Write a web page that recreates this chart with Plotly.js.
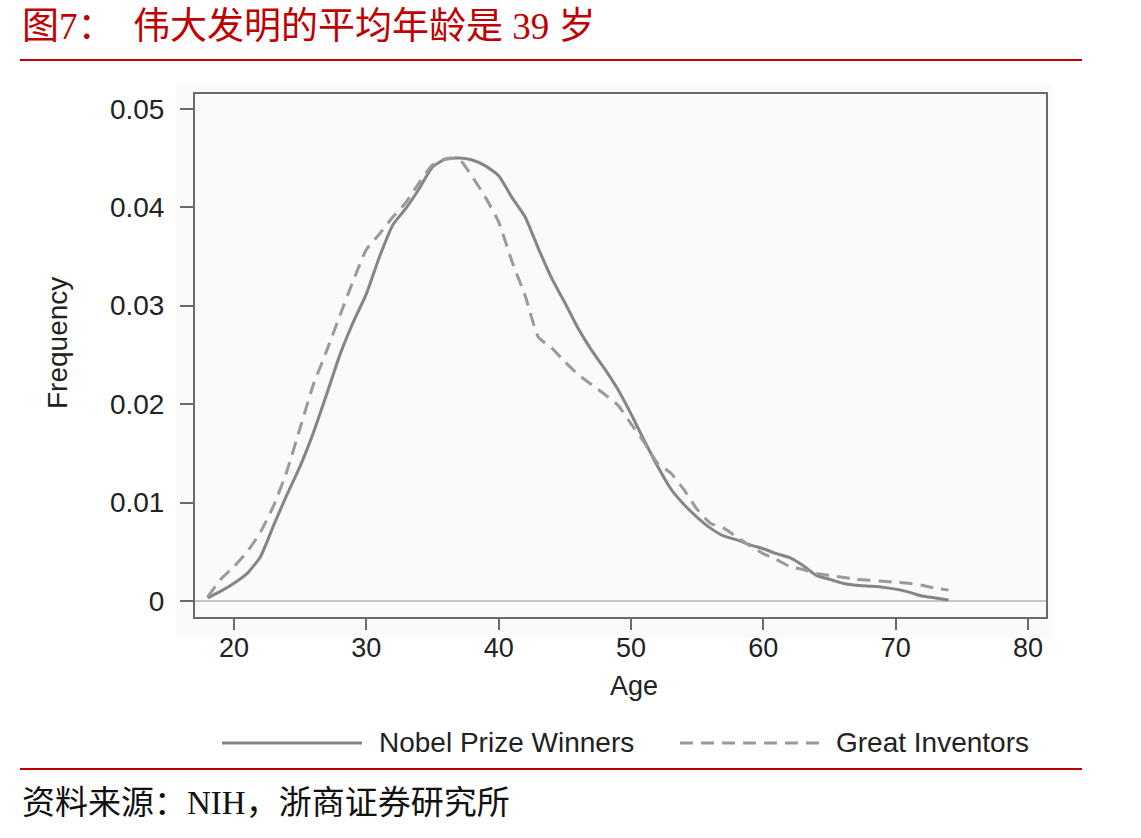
<!DOCTYPE html>
<html>
<head>
<meta charset="utf-8">
<script src="https://cdn.plot.ly/plotly-3.0.1.min.js"></script>
<style>
  html, body { margin: 0; padding: 0; background: #ffffff; }
  #chart { width: 1141px; height: 838px; }
</style>
</head>
<body>
<div id="chart"></div>
<script>
// ---- data ----
const ages = [18,19,20,21,22,23,24,25,26,27,28,29,30,31,32,33,34,35,36,37,38,39,40,41,42,43,44,45,46,47,48,49,50,51,52,53,54,55,56,57,58,59,60,61,62,63,64,65,66,67,68,69,70,71,72,73,74];
const nobelPrizeWinners = [0.0003,0.0010,0.0018,0.0028,0.0045,0.0077,0.0108,0.0137,0.0171,0.0210,0.0250,0.0283,0.0312,0.0350,0.0382,0.0399,0.0419,0.0441,0.0449,0.0450,0.0448,0.0442,0.0432,0.0410,0.0390,0.0358,0.0328,0.0303,0.0277,0.0255,0.0236,0.0215,0.0190,0.0163,0.0137,0.0114,0.0098,0.0085,0.0074,0.0066,0.0062,0.0057,0.0053,0.0048,0.0044,0.0036,0.0026,0.0022,0.0018,0.0016,0.0015,0.0014,0.0012,0.0009,0.0005,0.0003,0.0001];
const greatInventors = [0.0004,0.0022,0.0035,0.0050,0.0070,0.0097,0.0132,0.0176,0.0220,0.0254,0.0290,0.0325,0.0357,0.0373,0.0390,0.0405,0.0425,0.0443,0.0449,0.0449,0.0431,0.0410,0.0385,0.0345,0.0310,0.0268,0.0257,0.0243,0.0230,0.0220,0.0210,0.0199,0.0180,0.0161,0.0140,0.0130,0.0113,0.0093,0.0079,0.0074,0.0065,0.0056,0.0048,0.0042,0.0035,0.0032,0.0028,0.0026,0.0024,0.0022,0.0021,0.0020,0.0019,0.0018,0.0016,0.0013,0.0011];
const seriesNames = ["Nobel Prize Winners", "Great Inventors"];
const xTickVals = [20,30,40,50,60,70,80];
const xTickText = ["20","30","40","50","60","70","80"];
const yTickVals = [0,0.01,0.02,0.03,0.04,0.05];
const yTickText = ["0","0.01","0.02","0.03","0.04","0.05"];
const chartTitle = "图7：  伟大发明的平均年龄是 39 岁";
const xTitle = "Age";
const yTitle = "Frequency";
const sourceText = "资料来源：NIH，浙商证券研究所";

// ---- layout helpers (pixel -> paper) ----
const W = 1141, H = 838;
const M = {l: 195, r: 95, t: 94, b: 221};
const PW = W - M.l - M.r, PH = H - M.t - M.b;
const px = x => (x - M.l) / PW;
const py = y => (H - M.b - y) / PH;

const sans = "Liberation Sans, Arial, sans-serif";
const serifCJK = "Liberation Serif, Noto Sans CJK SC, serif";
const red = "#c00000";
const solidColor = "#858585";
const dashColor = "#9a9a9a";
const FS = 28;

const traces = [
  {x: ages, y: nobelPrizeWinners, name: seriesNames[0], type: "scatter", mode: "lines",
   line: {color: solidColor, width: 3, shape: "spline", smoothing: 0.5}, showlegend: false, hoverinfo: "skip"},
  {x: ages, y: greatInventors, name: seriesNames[1], type: "scatter", mode: "lines",
   line: {color: dashColor, width: 3, dash: "13px,8px", shape: "spline", smoothing: 0.5}, showlegend: false, hoverinfo: "skip"}
];

const layout = {
  width: W, height: H,
  margin: M,
  paper_bgcolor: "#ffffff",
  plot_bgcolor: "#f6f7f9",
  showlegend: false,
  xaxis: {
    range: [17.05, 81.36], tickvals: xTickVals, ticktext: xTickText,
    showgrid: false, zeroline: false,
    showline: true, mirror: true, linecolor: "#6a6a6a", linewidth: 2,
    ticks: "outside", ticklen: 11, tickwidth: 2, tickcolor: "#6a6a6a",
    ticklabelstandoff: -5,
    tickfont: {family: sans, size: 27, color: "#222222"}
  },
  yaxis: {
    range: [-0.00163, 0.0515], tickvals: yTickVals, ticktext: yTickText,
    showgrid: false, zeroline: true, zerolinecolor: "#c4c6c8", zerolinewidth: 2,
    showline: true, mirror: true, linecolor: "#6a6a6a", linewidth: 2,
    ticks: "outside", ticklen: 13, tickwidth: 2, tickcolor: "#6a6a6a",
    ticklabelstandoff: 10,
    tickfont: {family: sans, size: FS, color: "#222222"}
  },
  shapes: [
    {type: "rect", xref: "paper", yref: "paper", layer: "below",
     x0: px(176), x1: px(1052), y0: py(638), y1: py(84),
     fillcolor: "#fafafb", line: {width: 0}},
    {type: "line", xref: "paper", yref: "paper", x0: px(20), x1: px(1082), y0: py(60), y1: py(60),
     line: {color: red, width: 2}},
    {type: "line", xref: "paper", yref: "paper", x0: px(20), x1: px(1082), y0: py(769), y1: py(769),
     line: {color: red, width: 2}},
    {type: "line", xref: "paper", yref: "paper", x0: px(222), x1: px(362), y0: py(743), y1: py(743),
     line: {color: solidColor, width: 3}},
    {type: "line", xref: "paper", yref: "paper", x0: px(680), x1: px(822), y0: py(743), y1: py(743),
     line: {color: dashColor, width: 3, dash: "13px,8px"}}
  ],
  annotations: [
    {text: chartTitle, xref: "paper", yref: "paper", x: px(20), y: py(26), xanchor: "left", yanchor: "middle",
     showarrow: false, font: {family: serifCJK, size: 37, color: red}},
    {text: sourceText, xref: "paper", yref: "paper", x: px(20), y: py(803), xanchor: "left", yanchor: "middle",
     showarrow: false, font: {family: serifCJK, size: 33, color: "#111111"}},
    {text: xTitle, xref: "paper", yref: "paper", x: px(634), y: py(686), xanchor: "center", yanchor: "middle",
     showarrow: false, font: {family: sans, size: 27, color: "#222222"}},
    {text: yTitle, xref: "paper", yref: "paper", x: px(57), y: py(343), xanchor: "center", yanchor: "middle",
     textangle: -90, showarrow: false, font: {family: sans, size: FS, color: "#222222"}},
    {text: seriesNames[0], xref: "paper", yref: "paper", x: px(377), y: py(742), xanchor: "left", yanchor: "middle",
     showarrow: false, font: {family: sans, size: FS, color: "#222222"}},
    {text: seriesNames[1], xref: "paper", yref: "paper", x: px(834), y: py(742), xanchor: "left", yanchor: "middle",
     showarrow: false, font: {family: sans, size: FS, color: "#222222"}}
  ]
};

Plotly.newPlot("chart", traces, layout, {staticPlot: true, displayModeBar: false});
</script>
</body>
</html>
